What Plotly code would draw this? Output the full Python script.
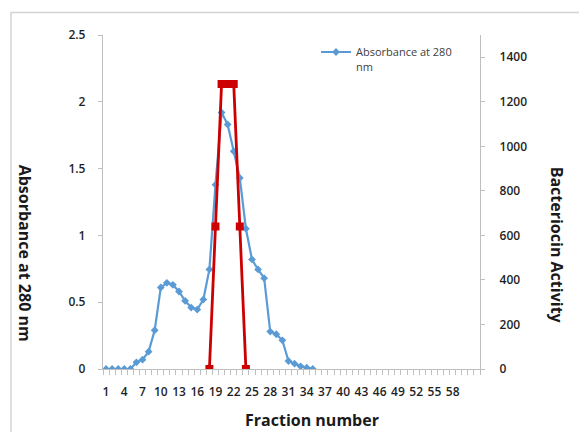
import plotly.graph_objects as go

# Data
fractions = [1, 2, 3, 4, 5, 6, 7, 8, 9, 10, 11, 12, 13, 14, 15, 16, 17, 18,
             19, 20, 21, 22, 23, 24, 25, 26, 27, 28, 29, 30, 31, 32, 33, 34, 35]
absorbance = [0, 0, 0, 0, 0, 0.05, 0.07, 0.13, 0.29, 0.61, 0.645, 0.63, 0.58,
              0.51, 0.46, 0.445, 0.52, 0.745, 1.38, 1.92, 1.83, 1.63, 1.43,
              1.05, 0.82, 0.745, 0.68, 0.28, 0.26, 0.215, 0.06, 0.04, 0.02,
              0.01, 0]
activity_fractions = [18, 19, 20, 21, 22, 23, 24]
activity = [0, 640, 1280, 1280, 1280, 640, 0]
x_tick_labels = [1, 4, 7, 10, 13, 16, 19, 22, 25, 28, 31, 34, 37, 40, 43, 46,
                 49, 52, 55, 58]
left_ticks = [0, 0.5, 1, 1.5, 2, 2.5]
right_ticks = [0, 200, 400, 600, 800, 1000, 1200, 1400]
n_categories = 62

W, H = 579, 432
L, R, T, B = 103, 99, 35, 62.5
pw = W - L - R
ph = H - T - B


def px_x(x):
    return (x - L) / pw


def px_y(y):
    return (H - B - y) / ph


tickfont = dict(family="Open Sans", size=12, color="#1f1f1f", weight=600)
titlefont = dict(family="Open Sans", size=16, color="#1a1a1a", weight=700)

fig = go.Figure()
fig.add_trace(go.Scatter(
    x=fractions, y=absorbance, name="Absorbance at 280<br>nm",
    mode="lines+markers",
    line=dict(color="#5B9BD5", width=2.2),
    marker=dict(symbol="diamond", size=6, color="#5B9BD5"),
    yaxis="y", showlegend=True,
))
fig.add_trace(go.Scatter(
    x=activity_fractions, y=activity, name="Bacteriocin Activity",
    mode="lines+markers",
    line=dict(color="#CC0000", width=2.8),
    marker=dict(symbol="square", size=8, color="#CC0000"),
    yaxis="y2", showlegend=False,
))

axis_line = "#BFBFBF"
fig.update_layout(
    width=W, height=H,
    margin=dict(l=L, r=R, t=T, b=B),
    paper_bgcolor="white", plot_bgcolor="white",
    showlegend=True,
    legend=dict(x=0.565, y=0.99, xanchor="left", yanchor="top",
                bgcolor="rgba(0,0,0,0)", valign="top",
                font=dict(family="Open Sans", size=11, color="#404040"),
                tracegroupgap=0),
    xaxis=dict(
        range=[0.5, n_categories + 0.5],
        tickmode="array", tickvals=x_tick_labels,
        ticktext=[str(v) for v in x_tick_labels],
        ticks="", showgrid=False, zeroline=False,
        showline=True, linecolor=axis_line, linewidth=1.3,
        tickfont=tickfont, ticklabelstandoff=11,
        minor=dict(tickmode="array",
                   tickvals=[i + 0.5 for i in range(n_categories + 1)],
                   ticks="outside", ticklen=5, tickcolor=axis_line,
                   tickwidth=1, showgrid=False),
    ),
    yaxis=dict(
        range=[0, 2.5], tickmode="array", tickvals=left_ticks,
        ticks="outside", ticklen=4, tickcolor=axis_line,
        showgrid=False, zeroline=False,
        showline=True, linecolor=axis_line, linewidth=1.3,
        tickfont=tickfont, ticklabelstandoff=10,
    ),
    yaxis2=dict(
        range=[0, 1500], tickmode="array", tickvals=right_ticks,
        overlaying="y", side="right",
        ticks="outside", ticklen=4, tickcolor=axis_line,
        showgrid=False, zeroline=False,
        showline=True, linecolor=axis_line, linewidth=1.3,
        tickfont=tickfont, ticklabelstandoff=12,
    ),
)

# Chart border (light gray frame), extending past the right and bottom edges
fig.add_shape(type="rect", xref="paper", yref="paper",
              x0=px_x(11), x1=px_x(W + 20),
              y0=px_y(H + 20), y1=px_y(12.5),
              line=dict(color="#D3D3D3", width=1.5), fillcolor="rgba(0,0,0,0)",
              layer="above")

# Axis titles
fig.add_annotation(text="Absorbance at 280 nm", textangle=90,
                   xref="paper", yref="paper", xanchor="center", yanchor="middle",
                   x=px_x(25), y=px_y(253),
                   showarrow=False, font=titlefont)
fig.add_annotation(text="Bacteriocin Activity", textangle=90,
                   xref="paper", yref="paper", xanchor="center", yanchor="middle",
                   x=px_x(557), y=px_y(245),
                   showarrow=False, font=titlefont)
fig.add_annotation(text="Fraction number",
                   xref="paper", yref="paper", xanchor="center", yanchor="middle",
                   x=px_x(312), y=px_y(421),
                   showarrow=False, font=titlefont)

fig.write_html("out.html",
               config={"displayModeBar": False},
               post_script="document.body.style.margin='0';"
                           "document.body.style.overflow='hidden';")
